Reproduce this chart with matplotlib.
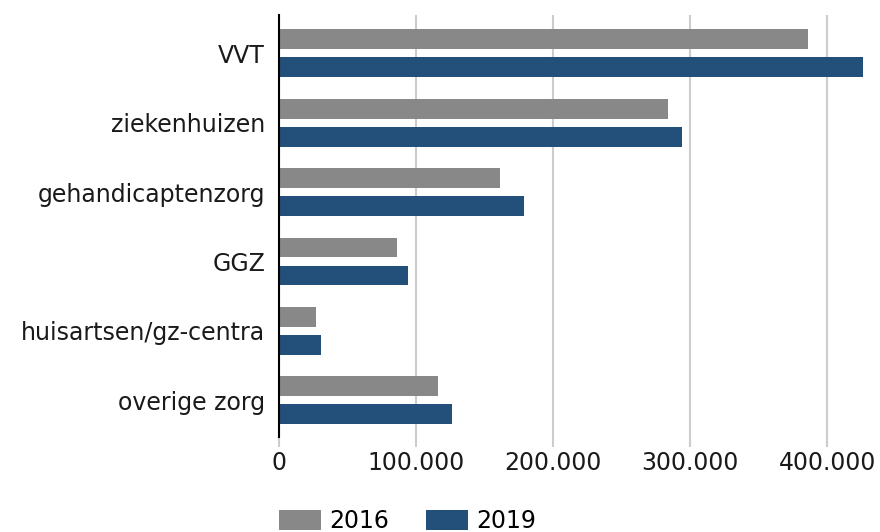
import numpy as np
import matplotlib
matplotlib.use("Agg")
from matplotlib import pyplot as plt
from matplotlib.ticker import FuncFormatter

categories = ["VVT", "ziekenhuizen", "gehandicaptenzorg", "GGZ",
              "huisartsen/gz-centra", "overige zorg"]
values_2016 = [386000, 284000, 161000, 86000, 27000, 116000]
values_2019 = [426000, 294000, 179000, 94000, 31000, 126000]
series_labels = ["2016", "2019"]
xticks = [0, 100000, 200000, 300000, 400000]

gray = "#888888"
blue = "#22507a"

plt.rcParams['font.family'] = ['DejaVu Sans']

fig = plt.figure(figsize=(8.8, 5.32), dpi=100)
ax = fig.add_axes([279/880, 1-437/532, (863-279)/880, (437-15)/532])

y = np.arange(len(categories))
h = 0.288
off = 0.2017
ax.barh(y - off, values_2016, height=h, color=gray, label=series_labels[0], zorder=3)
ax.barh(y + off, values_2019, height=h, color=blue, label=series_labels[1], zorder=3)

ax.set_ylim(5.529, -0.552)
ax.set_xlim(0, 426000)
ax.set_xticks(xticks)
ax.xaxis.set_major_formatter(FuncFormatter(lambda v, p: f"{int(v):,}".replace(",", ".")))
ax.set_yticks(y)
ax.set_yticklabels(categories)

ax.grid(axis='x', color="#cccccc", linewidth=1.5, zorder=0)
for s in ["top", "right", "bottom"]:
    ax.spines[s].set_visible(False)
ax.spines["left"].set_linewidth(1.5)
ax.spines["left"].set_color("black")
ax.spines["left"].set_zorder(4)

ax.tick_params(axis='y', length=0, pad=10, labelsize=17, colors="#1a1a1a")
ax.tick_params(axis='x', length=7, width=1.5, color="#cccccc", pad=3,
               labelsize=17, labelcolor="#1a1a1a")
ax.xaxis.get_major_ticks()[0].tick1line.set_color("black")

fig.legend(loc='center left', bbox_to_anchor=(279/880, 1-521/532),
           ncol=2, frameon=False, fontsize=17, borderpad=0, borderaxespad=0,
           handlelength=1.78, handleheight=0.89, handletextpad=0.36,
           columnspacing=1.55)

fig.savefig("out.png", dpi=100)
